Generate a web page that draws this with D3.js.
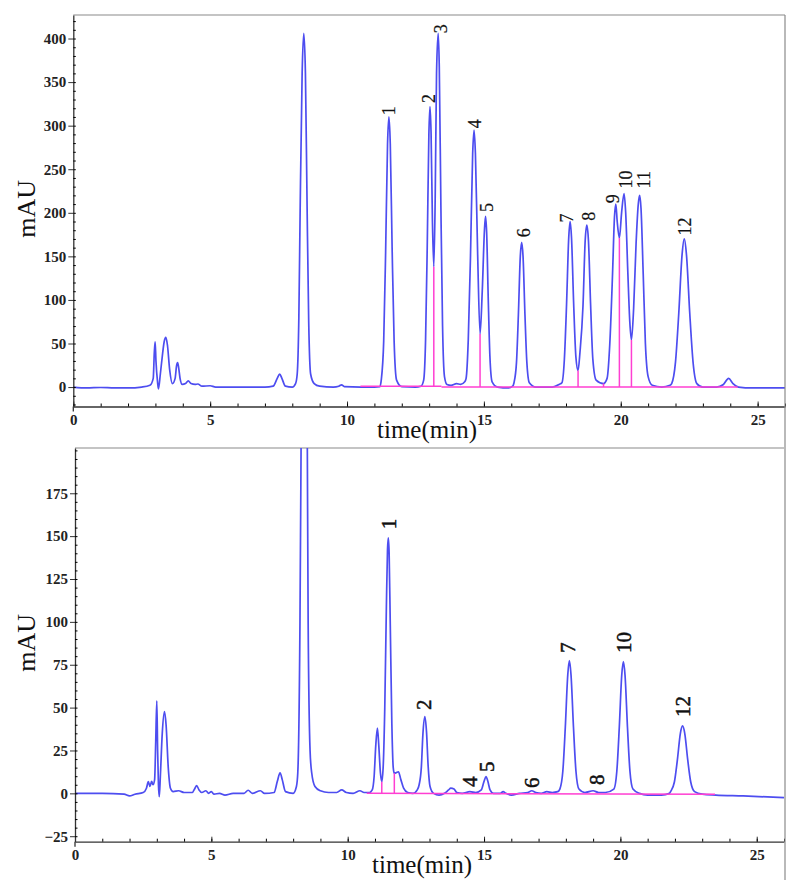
<!DOCTYPE html>
<html>
<head>
<meta charset="utf-8">
<script src="https://cdn.jsdelivr.net/npm/d3@7"></script>
<style>
  body { margin: 0; background: #fff; }
  svg text { font-family: "Liberation Serif", "Times New Roman", serif; }
  .tick text { font-weight: bold; font-size: 15px; fill: #222; }
</style>
</head>
<body>
<div id="chart"></div>
<script>
// x ticks (min)
const xMajorTicks = [0, 5, 10, 15, 20, 25];
const xMinorTicks = d3.range(0, 27, 1);
const topYTicks = [0, 50, 100, 150, 200, 250, 300, 350, 400];
const bottomYTicks = [-25, 0, 25, 50, 75, 100, 125, 150, 175];

// top chromatogram (standard mix), [time, mAU]
const topTrace = [
  [0, 0], [0.5, -1], [1, -0.5], [1.5, -1], [2, -1], [2.5, 0], [2.8, 2],
  [2.92, 10], [2.96, 40], [2.99, 52], [3.02, 30], [3.08, 5], [3.11, -2],
  [3.18, 15], [3.25, 35], [3.32, 52], [3.38, 57], [3.44, 48], [3.52, 20], [3.62, 4],
  [3.72, 10], [3.77, 24], [3.81, 28], [3.85, 22], [3.9, 10], [3.98, 3],
  [4.1, 4], [4.2, 7], [4.3, 4], [4.45, 3], [4.55, 3.5], [4.7, 1], [5.0, 1.5], [5.2, 0],
  [6, 0], [7, 0], [7.3, 1], [7.45, 10], [7.54, 15], [7.62, 10], [7.75, 1], [8.0, 0], [8.12, 4],
  [8.18, 15], [8.24, 80], [8.29, 210], [8.36, 360], [8.42, 406], [8.48, 360], [8.54, 210],
  [8.6, 75], [8.67, 15], [8.8, 4], [9.0, 1], [9.5, 0], [9.7, 1], [9.8, 2.6], [9.9, 0.5],
  [10.5, 0], [11.0, 0], [11.2, 0.5],
  [11.25, 8], [11.34, 53], [11.41, 155], [11.48, 279], [11.53, 310], [11.58, 279],
  [11.65, 155], [11.72, 53], [11.81, 8], [12.0, 0.5], [12.5, 0], [12.7, 1],
  [12.8, 8], [12.87, 55], [12.93, 161], [12.99, 290], [13.03, 322], [13.07, 292],
  [13.12, 190], [13.17, 138], [13.22, 215], [13.27, 360], [13.33, 406], [13.37, 368],
  [13.43, 205], [13.49, 70], [13.56, 12], [13.65, 3], [13.8, 2], [14.0, 4], [14.15, 3], [14.3, 6],
  [14.35, 10], [14.43, 55], [14.51, 150], [14.59, 268], [14.64, 295], [14.69, 268],
  [14.77, 155], [14.86, 61], [14.94, 110], [15.02, 180], [15.06, 196], [15.1, 178],
  [15.16, 100], [15.22, 35], [15.3, 6], [15.5, 0], [15.9, -1], [16.05, 1],
  [16.1, 5], [16.19, 28], [16.26, 83], [16.33, 150], [16.38, 166], [16.43, 150],
  [16.5, 83], [16.57, 28], [16.66, 5], [16.9, 0], [17.5, 0], [17.75, 3],
  [17.85, 5], [17.94, 32], [18.02, 95], [18.1, 172], [18.15, 190], [18.2, 172],
  [18.28, 95], [18.36, 35], [18.44, 19], [18.51, 40], [18.62, 93], [18.7, 168],
  [18.76, 186], [18.82, 168], [18.9, 93], [18.98, 32], [19.1, 8], [19.37, 4],
  [19.5, 10], [19.6, 50], [19.7, 130], [19.77, 195], [19.82, 210], [19.87, 190],
  [19.95, 171], [20.03, 200], [20.12, 222], [20.18, 200], [20.26, 130], [20.33, 75],
  [20.39, 54], [20.47, 90], [20.56, 165], [20.64, 210], [20.69, 220], [20.74, 205],
  [20.82, 130], [20.9, 50], [21.0, 12], [21.15, 2], [21.5, 0], [21.8, 2],
  [21.86, 4], [22.0, 29], [22.12, 85], [22.24, 152], [22.32, 170], [22.4, 152],
  [22.52, 85], [22.64, 29], [22.78, 4], [23.0, 0], [23.5, 0], [23.75, 3],
  [23.94, 10], [24.1, 4], [24.3, 0], [24.8, -1], [25.5, -1], [26, -1]
];

// bottom chromatogram (sample), [time, mAU]
const bottomTrace = [
  [0, 0], [1, 0], [1.8, -0.5], [2.0, -1.5], [2.2, -0.5], [2.5, 0.5], [2.62, 3],
  [2.69, 6.8], [2.75, 4], [2.81, 7], [2.86, 5], [2.92, 8], [2.96, 30], [3.0, 54],
  [3.03, 25], [3.06, 5], [3.09, -2], [3.13, 10], [3.2, 35], [3.28, 47.6], [3.34, 40],
  [3.42, 15], [3.5, 3], [3.6, 1], [3.8, 1.5], [4.0, 0.5], [4.3, 0.5], [4.4, 3],
  [4.46, 4.5], [4.55, 2], [4.65, 0.5], [4.8, 1.5], [4.9, 0], [5.0, 1], [5.1, -0.5],
  [5.3, 0], [5.5, -1], [5.8, 0], [6.2, 0], [6.35, 1.8], [6.5, 0], [6.8, 1.5], [6.95, 0],
  [7.3, 0.5], [7.42, 7], [7.52, 12], [7.6, 8], [7.72, 1], [8.0, 0], [8.12, 4],
  [8.17, 12], [8.25, 100], [8.29, 201], [8.34, 340], [8.40, 380], [8.47, 340],
  [8.52, 201], [8.55, 100], [8.62, 25], [8.68, 12], [8.8, 4], [9.0, 1.5], [9.3, 0.5],
  [9.6, 0.5], [9.78, 2], [9.95, 0.5], [10.2, 0], [10.45, 1.5], [10.6, 0.5], [10.8, 0.5],
  [10.9, 2], [10.97, 10], [11.03, 28], [11.09, 38], [11.14, 28], [11.2, 12], [11.25, 6.8],
  [11.3, 15], [11.36, 50], [11.42, 110], [11.46, 142], [11.49, 149], [11.52, 140],
  [11.56, 100], [11.62, 40], [11.67, 15], [11.71, 11.7], [11.78, 12], [11.86, 12.6],
  [11.95, 8], [12.05, 3], [12.2, 0.5], [12.4, 0], [12.55, 2],
  [12.62, 5], [12.7, 15], [12.76, 35], [12.83, 44.7], [12.89, 36], [12.95, 16],
  [13.02, 4], [13.15, 0], [13.35, -1], [13.55, 0], [13.7, 2], [13.78, 3], [13.9, 2.5],
  [14.0, 0.5], [14.2, 0], [14.48, 1], [14.7, 0.5], [14.9, 2], [15.0, 7], [15.07, 9.7],
  [15.14, 7], [15.22, 2], [15.35, 0], [15.6, 0], [15.7, 1], [15.8, 0], [16.0, -1],
  [16.3, 0], [16.6, 0.5], [16.75, 1.5], [16.9, 0.5], [17.1, 0], [17.3, 1], [17.5, 0.5],
  [17.7, 1], [17.78, 2.5], [17.89, 13], [17.98, 38.5], [18.07, 69], [18.13, 77.4],
  [18.19, 69], [18.28, 38.5], [18.37, 13], [18.48, 2.5], [18.7, 0.5], [19.0, 1.5],
  [19.2, 0.5], [19.45, 0.5], [19.76, 2.5], [19.87, 13], [19.96, 38.5], [20.05, 69],
  [20.11, 76.8], [20.17, 69], [20.26, 38.5], [20.35, 13], [20.46, 2.5], [20.7, 0],
  [21.0, -1], [21.5, -1], [21.8, 0], [21.84, 1], [21.98, 6.6], [22.09, 19.5],
  [22.2, 35], [22.28, 39.3], [22.36, 35], [22.47, 19.5], [22.58, 6.6], [22.72, 1],
  [23.0, -0.5], [23.5, -1], [24.5, -1.5], [26, -2.5]
];

// integration baselines and drop lines (magenta)
const topBaseline = [[[10.49, 1], [13.45, 1]], [[13.45, 0], [24.27, 0]]];
const topDrops = [[13.17, 138], [14.86, 61], [18.44, 19], [19.37, 4], [19.95, 171], [20.39, 54]];
const bottomBaseline = [[[10.7, 0], [23.47, -0.5]]];
const bottomDrops = [[11.25, 6.8], [11.71, 11.7]];

// peak numbers: name, time, mAU of the label foot
const topLabelNames = ["1", "2", "3", "4", "5", "6", "7", "8", "9", "10", "11", "12"];
const topLabelT = [11.53, 12.98, 13.42, 14.66, 15.13, 16.45, 18.05, 18.83, 19.7, 20.19, 20.86, 22.35];
const topLabelV = [312, 326, 406, 297, 201, 172, 189, 191, 211, 228, 228, 174];
const bottomLabelNames = ["1", "2", "4", "5", "6", "7", "8", "10", "12"];
const bottomLabelT = [11.5, 12.81, 14.48, 15.1, 16.75, 18.09, 19.13, 20.13, 22.31];
const bottomLabelV = [154, 48.6, 3.7, 12.4, 3.1, 81.9, 4.8, 81.9, 44.5];

const width = 794, height = 894;
const svg = d3.select("#chart").append("svg")
  .attr("width", width).attr("height", height);

function panel(opt) {
  const x = d3.scaleLinear().domain([0, 26]).range([opt.left, opt.right]);
  const y = d3.scaleLinear().domain(opt.yDomain).range([opt.bottom, opt.top]);
  const g = svg.append("g");

  const clipId = "clip" + opt.id;
  svg.append("clipPath").attr("id", clipId).append("rect")
    .attr("x", opt.left).attr("y", opt.top)
    .attr("width", opt.right - opt.left).attr("height", opt.bottom - opt.top);

  // frame (top), grey
  g.append("line").attr("x1", opt.left).attr("x2", opt.right)
    .attr("y1", opt.top).attr("y2", opt.top)
    .attr("stroke", "#8a8a8a").attr("stroke-width", 1.2);

  const line = d3.line().x(d => x(d[0])).y(d => y(d[1])).curve(d3.curveMonotoneX);

  const plot = g.append("g").attr("clip-path", `url(#${clipId})`);
  plot.append("path").datum(opt.trace)
    .attr("fill", "none").attr("stroke", "#4d4df0").attr("stroke-width", 1.7)
    .attr("d", line);

  opt.baseline.forEach(seg => {
    plot.append("path").datum(seg)
      .attr("fill", "none").attr("stroke", "#ff3fd2").attr("stroke-width", 1.5)
      .attr("d", d3.line().x(d => x(d[0])).y(d => y(d[1])));
  });
  plot.selectAll(".drop").data(opt.drops).join("line")
    .attr("x1", d => x(d[0])).attr("x2", d => x(d[0]))
    .attr("y1", y(0)).attr("y2", d => y(d[1]))
    .attr("stroke", "#ff3fd2").attr("stroke-width", 1.5);

  // axes
  const xAxis = g.append("g").attr("transform", `translate(0,${opt.bottom})`)
    .call(d3.axisBottom(x).tickValues(xMajorTicks).tickSize(-5).tickPadding(8).tickSizeOuter(0));
  g.append("g").attr("transform", `translate(0,${opt.bottom})`)
    .call(d3.axisBottom(x).tickValues(xMinorTicks).tickSize(-3).tickFormat("").tickSizeOuter(0))
    .select(".domain").remove();
  const yAxis = g.append("g").attr("transform", `translate(${opt.left},0)`)
    .call(d3.axisLeft(y).tickValues(opt.yTicks).tickSize(5).tickPadding(2).tickSizeOuter(0));
  g.append("g").attr("transform", `translate(${opt.left},0)`)
    .call(d3.axisLeft(y).tickValues(d3.range(opt.minorStart, opt.yDomain[1], opt.minorStep))
      .tickSize(-2.5).tickFormat("").tickSizeOuter(0))
    .select(".domain").remove();

  [xAxis, yAxis].forEach(a => {
    a.selectAll("line").attr("stroke", "#333");
    a.select(".domain").attr("stroke", "#333").attr("stroke-width", 1.3);
  });
  // left axis runs a little below the x axis
  g.append("line").attr("x1", opt.left).attr("x2", opt.left)
    .attr("y1", opt.bottom).attr("y2", opt.bottom + 5)
    .attr("stroke", "#333").attr("stroke-width", 1.3);

  // peak numbers
  g.selectAll(".pk").data(opt.labelNames).join("text")
    .attr("transform", (d, i) => `translate(${x(opt.labelT[i])},${y(opt.labelV[i])}) rotate(-90)`)
    .attr("dy", "0.33em").attr("text-anchor", "start")
    .attr("font-size", opt.labelSize).attr("fill", "#111")
    .attr("stroke", "#111").attr("stroke-width", opt.labelStroke)
    .text(d => d);

  // axis titles
  g.append("text").attr("x", opt.titleX).attr("y", opt.bottom + 31)
    .attr("text-anchor", "middle").attr("font-size", 25).attr("fill", "#111")
    .text("time(min)");
  g.append("text")
    .attr("transform", `translate(35,${(opt.top + opt.bottom) / 2 - 2}) rotate(-90)`)
    .attr("text-anchor", "middle").attr("font-size", 26).attr("fill", "#111")
    .text("mAU");
}

panel({
  id: "top", left: 73.3, right: 785, top: 15, bottom: 406.5,
  yDomain: [-22.3, 427], yTicks: topYTicks, minorStart: -20, minorStep: 10,
  trace: topTrace, baseline: topBaseline, drops: topDrops,
  labelNames: topLabelNames, labelT: topLabelT, labelV: topLabelV, labelSize: 18, labelStroke: 0.2,
  titleX: 427
});
panel({
  id: "bottom", left: 75, right: 784, top: 448, bottom: 841.7,
  yDomain: [-28.2, 201.4], yTicks: bottomYTicks, minorStart: -25, minorStep: 5,
  trace: bottomTrace, baseline: bottomBaseline, drops: bottomDrops,
  labelNames: bottomLabelNames, labelT: bottomLabelT, labelV: bottomLabelV, labelSize: 21, labelStroke: 0.5,
  titleX: 422
});

// right frame line through both panels
svg.append("line").attr("x1", 785).attr("x2", 785).attr("y1", 15).attr("y2", 880)
  .attr("stroke", "#8a8a8a").attr("stroke-width", 1.2);
</script>
</body>
</html>
